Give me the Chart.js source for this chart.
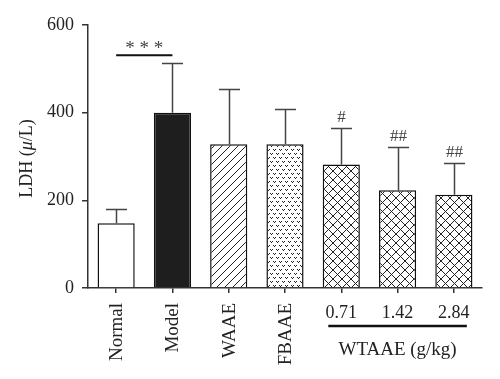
<!DOCTYPE html>
<html><head><meta charset="utf-8">
<script src="https://cdn.jsdelivr.net/npm/chart.js@4.4.0/dist/chart.umd.min.js"></script>
<style>html,body{margin:0;padding:0;background:#fff;}</style>
</head><body>
<canvas id="c" width="500" height="379" style="width:500px;height:379px;display:block"></canvas>
<script>
// ---- data ----
const categories = ['Normal','Model','WAAE','FBAAE','0.71','1.42','2.84'];
const means = [148, 400, 328, 328, 282, 223, 213];
const errorsUp = [32, 114, 125, 80, 84, 98, 72];
const markers = ['', '', '', '', '#', '##', '##'];
const yTicks = [0, 200, 400, 600];
const groupCategories = ['0.71','1.42','2.84'];
const groupLabel = 'WTAAE (g/kg)';
const sigPair = ['Normal','Model'];
const sigText = '***';
const sigLevel = 531;
const yTitleParts = [['LDH (', false], ['\u03bc', true], ['/L)', false]];

// ---- patterns ----
function makePattern(w, h, draw) {
  const c = document.createElement('canvas');
  c.width = w; c.height = h;
  const g = c.getContext('2d');
  g.fillStyle = '#fff'; g.fillRect(0, 0, w, h);
  draw(g, w, h);
  return g.createPattern(c, 'repeat');
}
const pDiag = makePattern(8, 8, (g, w, h) => {
  g.strokeStyle = '#222'; g.lineWidth = 1;
  g.beginPath();
  g.moveTo(-1, h + 1); g.lineTo(w + 1, -1);
  g.moveTo(-1 - w, h + 1); g.lineTo(1, -1);
  g.moveTo(w - 1, h + 1); g.lineTo(2 * w + 1, -1);
  g.stroke();
});
const pDots = makePattern(6, 8, (g) => {
  g.fillStyle = '#222';
  const v = (x, y) => { g.fillRect(x, y, 1, 1); g.fillRect(x + 1, y + 1, 1, 1); g.fillRect(x + 2, y, 1, 1); };
  v(0, 1); v(3, 5);
});
const pCross = makePattern(9, 9, (g, w, h) => {
  g.strokeStyle = '#222'; g.lineWidth = 1;
  g.beginPath();
  g.moveTo(0, 0); g.lineTo(w, h);
  g.moveTo(0, h); g.lineTo(w, 0);
  g.stroke();
});
const fills = ['#ffffff', '#1e1e1e', pDiag, pDots, pCross, pCross, pCross];

const serif = '"Liberation Serif", "Times New Roman", serif';

const extras = {
  id: 'extras',
  afterDatasetsDraw(chart) {
    const ctx = chart.ctx;
    const x = chart.scales.x, y = chart.scales.y;
    ctx.save();
    // error bars
    ctx.strokeStyle = '#444'; ctx.lineWidth = 1.5;
    categories.forEach((cat, i) => {
      const cx = Math.round(x.getPixelForValue(i)) + 0.5;
      const top = y.getPixelForValue(means[i]);
      const up = Math.round(y.getPixelForValue(means[i] + errorsUp[i])) + 0.5;
      ctx.beginPath();
      ctx.moveTo(cx, top); ctx.lineTo(cx, up);
      ctx.moveTo(cx - 10.5, up); ctx.lineTo(cx + 10.5, up);
      ctx.stroke();
      if (markers[i]) {
        ctx.fillStyle = '#444';
        ctx.font = '17px ' + serif;
        ctx.textAlign = 'center'; ctx.textBaseline = 'alphabetic';
        ctx.fillText(markers[i], cx, up - 7);
      }
    });
    // significance
    const i0 = categories.indexOf(sigPair[0]), i1 = categories.indexOf(sigPair[1]);
    const sy = y.getPixelForValue(sigLevel);
    ctx.strokeStyle = '#111'; ctx.lineWidth = 2;
    ctx.beginPath();
    ctx.moveTo(x.getPixelForValue(i0), sy); ctx.lineTo(x.getPixelForValue(i1), sy);
    ctx.stroke();
    ctx.fillStyle = '#444'; ctx.font = '19px ' + serif;
    ctx.textAlign = 'center'; ctx.textBaseline = 'alphabetic';
    ctx.fillText(sigText.split('').join(' '), (x.getPixelForValue(i0) + x.getPixelForValue(i1)) / 2, sy - 1);
    // x labels
    ctx.fillStyle = '#222';
    const bottom = chart.chartArea.bottom;
    categories.forEach((cat, i) => {
      const cx = x.getPixelForValue(i);
      if (groupCategories.includes(cat)) {
        ctx.font = '18px ' + serif;
        ctx.textAlign = 'center'; ctx.textBaseline = 'middle';
        ctx.fillText(cat, cx, bottom + 25);
      } else {
        ctx.font = '19px ' + serif;
        ctx.save();
        ctx.translate(cx + 1, bottom + 15);
        ctx.rotate(-Math.PI / 2);
        ctx.textAlign = 'right'; ctx.textBaseline = 'middle';
        ctx.fillText(cat, 0, 0);
        ctx.restore();
      }
    });
    // group line + label
    const g0 = x.getPixelForValue(categories.indexOf(groupCategories[0])) - 13;
    const g1 = x.getPixelForValue(categories.indexOf(groupCategories[groupCategories.length - 1])) + 13;
    ctx.strokeStyle = '#111'; ctx.lineWidth = 2.5;
    ctx.beginPath(); ctx.moveTo(g0, bottom + 38); ctx.lineTo(g1, bottom + 38); ctx.stroke();
    ctx.font = '19px ' + serif;
    ctx.textAlign = 'center'; ctx.textBaseline = 'middle';
    ctx.fillText(groupLabel, (g0 + g1) / 2, bottom + 62);
    // y title
    ctx.save();
    ctx.translate(27, (chart.chartArea.top + chart.chartArea.bottom) / 2 + 2);
    ctx.rotate(-Math.PI / 2);
    ctx.textBaseline = 'middle'; ctx.textAlign = 'left';
    let total = 0;
    yTitleParts.forEach(([t, it]) => { ctx.font = (it ? 'italic ' : '') + '18px ' + serif; total += ctx.measureText(t).width; });
    let px = -total / 2;
    yTitleParts.forEach(([t, it]) => { ctx.font = (it ? 'italic ' : '') + '18px ' + serif; ctx.fillText(t, px, 0); px += ctx.measureText(t).width; });
    ctx.restore();
    ctx.restore();
  }
};

new Chart(document.getElementById('c'), {
  type: 'bar',
  data: {
    labels: categories,
    datasets: [{
      data: means,
      backgroundColor: fills,
      borderColor: '#111',
      borderWidth: 1.5,
      borderSkipped: 'bottom',
      barPercentage: 0.66,
      categoryPercentage: 1.0
    }]
  },
  options: {
    responsive: false,
    animation: false,
    devicePixelRatio: 1,
    layout: { padding: { top: 25, right: 18, left: 0, bottom: 0 } },
    plugins: { legend: { display: false }, tooltip: { enabled: false } },
    scales: {
      x: {
        afterFit: (s) => { s.height = 91; },
        ticks: { display: false },
        grid: { drawOnChartArea: false, drawTicks: true, tickLength: 5, offset: false, color: '#333', lineWidth: 1.5 },
        border: { display: true, color: '#333', width: 1.5 }
      },
      y: {
        min: 0, max: 600,
        afterFit: (s) => { s.width = 88; },
        afterBuildTicks: (s) => { s.ticks = yTicks.map(v => ({ value: v })); },
        ticks: { color: '#222', font: { family: serif, size: 18 }, padding: 8 },
        grid: { drawOnChartArea: false, drawTicks: true, tickLength: 6, color: '#333', lineWidth: 1.5 },
        border: { display: true, color: '#333', width: 1.5 }
      }
    }
  },
  plugins: [extras]
});
</script>
</body></html>
